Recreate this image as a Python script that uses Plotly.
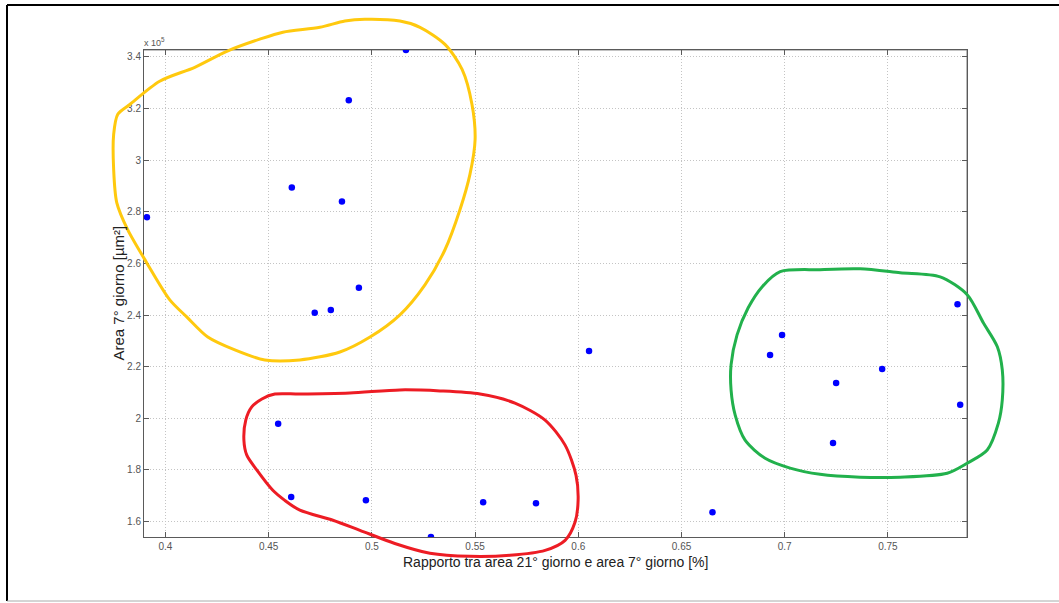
import plotly.graph_objects as go

# rapporto area 21 giorno / area 7 giorno, e area 7 giorno (x 10^5 um^2)
ratio = [0.5165, 0.4888, 0.4612, 0.4855, 0.3910, 0.4937, 0.4723, 0.4801,
         0.6052, 0.4546, 0.4609, 0.4971, 0.5286, 0.5539, 0.5795, 0.6650,
         0.6929, 0.6987, 0.7249, 0.7234, 0.7472, 0.7837, 0.7850]
area7 = [3.427, 3.232, 2.894, 2.840, 2.779, 2.506, 2.409, 2.420,
         2.261, 1.979, 1.695, 1.682, 1.540, 1.675, 1.671, 1.636,
         2.245, 2.323, 2.137, 1.904, 2.191, 2.442, 2.052]

# cerchi disegnati a mano (in unita' dei dati)
yellow_x = [0.4966, 0.5136, 0.5233, 0.5354, 0.5437, 0.5485, 0.5500, 0.5475, 0.5427,
            0.5354, 0.5257, 0.5136, 0.4991, 0.4845, 0.4651, 0.4481, 0.4336, 0.4205,
            0.4103, 0.4021, 0.3909, 0.3817, 0.3764, 0.3749, 0.3749, 0.3769, 0.3827,
            0.3972, 0.4142, 0.4297, 0.4457, 0.4569, 0.4748, 0.4869, 0.4966]
yellow_y = [3.546, 3.539, 3.515, 3.449, 3.352, 3.216, 3.080, 2.945, 2.809,
            2.653, 2.517, 2.401, 2.315, 2.257, 2.226, 2.226, 2.265, 2.315,
            2.393, 2.459, 2.603, 2.731, 2.836, 2.964, 3.100, 3.178, 3.216,
            3.306, 3.360, 3.422, 3.469, 3.496, 3.515, 3.539, 3.546]

red_x = [0.4380, 0.4389, 0.4418, 0.4467, 0.4530, 0.4651, 0.4893, 0.5136, 0.5330,
         0.5524, 0.5693, 0.5839, 0.5936, 0.5989, 0.5999, 0.5984, 0.5936, 0.5839,
         0.5669, 0.5475, 0.5281, 0.5111, 0.4942, 0.4811, 0.4651, 0.4578, 0.4520,
         0.4443, 0.4394, 0.4380]
red_y = [1.915, 1.993, 2.044, 2.075, 2.094, 2.094, 2.098, 2.110, 2.106,
         2.094, 2.059, 1.993, 1.896, 1.779, 1.682, 1.597, 1.527, 1.488,
         1.469, 1.465, 1.477, 1.515, 1.566, 1.605, 1.644, 1.682, 1.721,
         1.799, 1.857, 1.915]

green_x = [0.6978, 0.7171, 0.7365, 0.7559, 0.7753, 0.7884, 0.7962, 0.8030, 0.8054,
           0.8054, 0.8035, 0.7981, 0.7884, 0.7787, 0.7559, 0.7365, 0.7171, 0.7026,
           0.6905, 0.6808, 0.6760, 0.6740, 0.6740, 0.6769, 0.6823, 0.6891, 0.6978]
green_y = [2.568, 2.576, 2.579, 2.564, 2.548, 2.479, 2.370, 2.277, 2.187,
           2.071, 1.981, 1.877, 1.826, 1.787, 1.772, 1.772, 1.783, 1.807,
           1.845, 1.915, 2.012, 2.110, 2.207, 2.323, 2.428, 2.510, 2.568]

x_ticks = [0.4, 0.45, 0.5, 0.55, 0.6, 0.65, 0.7, 0.75]
y_ticks = [1.6, 1.8, 2.0, 2.2, 2.4, 2.6, 2.8, 3.0, 3.2, 3.4]

W, H = 1059, 603
xr = [0.3896, 0.7883]
yr = [1.540, 3.427]
xdom = [144 / W, 967 / W]
ydom = [1 - 537 / H, 1 - 50 / H]


def full_range(r, d):
    # range of an axis spanning the whole figure with the same scale
    k = (r[1] - r[0]) / (d[1] - d[0])
    return [r[0] - d[0] * k, r[0] + (1 - d[0]) * k]


fig = go.Figure()
fig.add_trace(go.Scatter(x=ratio, y=area7, mode='markers',
                         marker=dict(color='#0000ff', size=6.5), showlegend=False))

for xs, ys, col in [(yellow_x, yellow_y, '#ffc90e'),
                    (red_x, red_y, '#ed1c24'),
                    (green_x, green_y, '#22b14c')]:
    fig.add_trace(go.Scatter(x=xs, y=ys, mode='lines', xaxis='x2', yaxis='y2',
                             line=dict(color=col, width=3, shape='spline', smoothing=0.8),
                             showlegend=False, hoverinfo='skip'))

axis_style = dict(showgrid=True, gridcolor='#c4c4c4', griddash='1px,2px', gridwidth=1,
                  zeroline=False, showline=True, linecolor='#5a5a5a', linewidth=1,
                  ticks='inside', ticklen=5, tickcolor='#5a5a5a', mirror='ticks',
                  tickfont=dict(family='Liberation Sans', size=10, color='#555555'))

fig.update_layout(
    width=W, height=H,
    margin=dict(l=0, r=0, t=0, b=0),
    paper_bgcolor='white', plot_bgcolor='rgba(0,0,0,0)',
    xaxis=dict(domain=xdom, range=xr, tickvals=x_ticks,
               ticktext=[f'{v:g}' for v in x_ticks], **axis_style),
    yaxis=dict(domain=ydom, range=yr, tickvals=y_ticks,
               ticktext=[f'{v:g}' for v in y_ticks], **axis_style),
    xaxis2=dict(domain=[0, 1], range=full_range(xr, xdom), anchor='y2', visible=False),
    yaxis2=dict(domain=[0, 1], range=full_range(yr, ydom), anchor='x2', visible=False),
    font=dict(family='Liberation Sans'),
    annotations=[
        dict(text='Rapporto tra area 21° giorno e area 7° giorno [%]', xref='paper', yref='paper',
             x=(xdom[0] + xdom[1]) / 2, y=1 - 562 / H, xanchor='center', yanchor='middle',
             showarrow=False, font=dict(size=14, color='#222222')),
        dict(text='Area 7° giorno [µm²]', xref='paper', yref='paper', textangle=-90,
             x=118 / W, y=(ydom[0] + ydom[1]) / 2, xanchor='center', yanchor='middle',
             showarrow=False, font=dict(size=15, color='#222222')),
        dict(text='x 10<sup>5</sup>', xref='paper', yref='paper', x=142 / W, y=1 - 42 / H,
             xanchor='left', yanchor='middle', showarrow=False,
             font=dict(size=9, color='#555555')),
    ],
    shapes=[
        dict(type='line', xref='paper', yref='paper', x0=7 / W, x1=1, y0=1 - 5 / H, y1=1 - 5 / H,
             line=dict(color='black', width=2)),
        dict(type='line', xref='paper', yref='paper', x0=7 / W, x1=7 / W, y0=1 - 601 / H, y1=1 - 5 / H,
             line=dict(color='black', width=2)),
        dict(type='line', xref='paper', yref='paper', x0=7 / W, x1=1, y0=1 - 601 / H, y1=1 - 601 / H,
             line=dict(color='#aaaaaa', width=1)),
        dict(type='line', xref='paper', yref='paper', x0=xdom[1], x1=xdom[1], y0=ydom[0], y1=ydom[1],
             line=dict(color='#bbbbbb', width=2), layer='below'),
        dict(type='line', xref='paper', yref='paper', x0=xdom[0], x1=xdom[1], y0=ydom[1], y1=ydom[1],
             line=dict(color='#888888', width=1), layer='below'),
    ],
)

# the page margin would shift the figure by 8px
fig.write_html('out.html', config={'displayModeBar': False},
               post_script="document.body.style.margin='0';")
